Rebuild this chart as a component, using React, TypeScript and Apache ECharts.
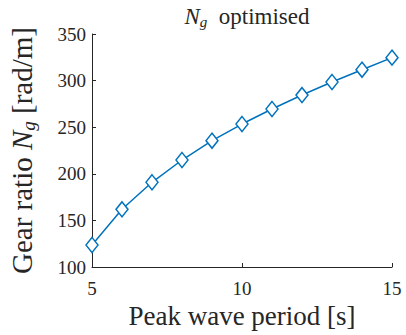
import React, { useEffect, useRef } from "react";
import * as echarts from "echarts";

const periods = [5, 6, 7, 8, 9, 10, 11, 12, 13, 14, 15];
const gearRatio = [123.6, 161.9, 190.9, 214.8, 235.5, 253.4, 269.5, 284.5, 298.5, 311.7, 324.6];
const xTicks = [5, 10, 15];
const yTicks = [100, 150, 200, 250, 300, 350];

const FONT = "Liberation Serif";
const BLUE = "#0072BD";
const INK = "#262626";

export default function App() {
  const ref = useRef<HTMLDivElement>(null);
  useEffect(() => {
    const chart = echarts.init(ref.current!, null, { renderer: "svg" });
    chart.setOption({
      animation: false,
      backgroundColor: "#ffffff",
      textStyle: { fontFamily: FONT, color: INK },
      title: {
        text: "{i|N}{s|g}{n|  optimised}",
        left: 242,
        textAlign: "center",
        top: -1,
        textStyle: {
          fontFamily: FONT,
          fontWeight: "normal",
          rich: {
            i: { fontFamily: FONT, fontStyle: "italic", fontWeight: "normal", fontSize: 23, color: INK },
            s: { fontFamily: FONT, fontStyle: "italic", fontWeight: "normal", fontSize: 15, color: INK, verticalAlign: "bottom", padding: [10, 0, 0, 0] },
            n: { fontFamily: FONT, fontWeight: "normal", fontSize: 23, color: INK },
          },
        },
      },
      grid: { left: 92, right: 14, top: 34, bottom: 68, outerBoundsMode: "none", containLabel: false },
      xAxis: {
        type: "value",
        min: xTicks[0],
        max: xTicks[xTicks.length - 1],
        interval: 5,
        name: "Peak wave period [s]",
        nameLocation: "middle",
        nameGap: 34,
        nameTextStyle: { fontFamily: FONT, fontSize: 27, color: INK },
        axisLine: { lineStyle: { color: INK, width: 1 } },
        axisTick: { inside: true, length: 4, lineStyle: { color: INK } },
        axisLabel: { fontFamily: FONT, fontSize: 19, color: INK, margin: 12 },
        splitLine: { show: false },
      },
      yAxis: {
        type: "value",
        min: yTicks[0],
        max: yTicks[yTicks.length - 1],
        interval: 50,
        name: "{n|Gear ratio }{i|N}{s|g}{n| [rad/m]}",
        nameLocation: "middle",
        nameGap: 54,
        nameRotate: 90,
        nameTextStyle: {
          fontFamily: FONT,
          rich: {
            n: { fontFamily: FONT, fontSize: 29, color: INK },
            i: { fontFamily: FONT, fontStyle: "italic", fontSize: 29, color: INK },
            s: { fontFamily: FONT, fontStyle: "italic", fontSize: 19, color: INK, verticalAlign: "bottom", padding: [13, 0, 0, 0] },
          },
        },
        axisLine: { show: true, lineStyle: { color: INK, width: 1 } },
        axisTick: { show: true, inside: true, length: 4, lineStyle: { color: INK } },
        axisLabel: { fontFamily: FONT, fontSize: 19, color: INK, margin: 6 },
        splitLine: { show: false },
      },
      series: [
        {
          type: "line",
          data: periods.map((p, i) => [p, gearRatio[i]]),
          symbol: "diamond",
          symbolSize: [12, 15],
          showAllSymbol: true,
          lineStyle: { color: BLUE, width: 1.5 },
          itemStyle: { color: "#ffffff", borderColor: BLUE, borderWidth: 1.5 },
        },
      ],
    });
    return () => chart.dispose();
  }, []);
  return <div ref={ref} style={{ width: 406, height: 335, position: "absolute", left: 0, top: 0 }} />;
}
